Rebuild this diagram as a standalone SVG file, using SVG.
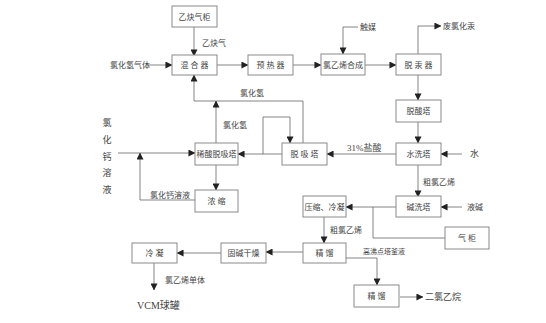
<svg xmlns="http://www.w3.org/2000/svg" width="546" height="323" viewBox="0 0 546 323">
<style>
.box{fill:#fff;stroke:#8a8a8a;stroke-width:1}
.ln{fill:none;stroke:#666;stroke-width:0.8}
.arr{marker-end:url(#ah)}
text{font-family:"Liberation Serif","Noto Sans CJK SC",serif;font-size:8px;fill:#444;text-anchor:middle}
.l{text-anchor:start}
.sp{letter-spacing:2px}
</style>
<defs>
<marker id="ah" viewBox="0 0 8 8" refX="7.5" refY="4" markerWidth="7" markerHeight="7" markerUnits="userSpaceOnUse" orient="auto">
<path d="M0,0 L8,4 L0,8 z" fill="#222"/>
</marker>
</defs>
<rect width="546" height="323" fill="#fff"/>
<g id="connectors">
<path class="ln arr" d="M194,27 V56"/>
<path class="ln arr" d="M148,65 H172"/>
<path class="ln arr" d="M217,65 H248"/>
<path class="ln arr" d="M293,65 H321"/>
<path class="ln arr" d="M358,27 H343 V54"/>
<path class="ln arr" d="M365,65 H396"/>
<path class="ln arr" d="M418,54 V26 H441"/>
<path class="ln arr" d="M418,75 V100"/>
<path class="ln arr" d="M418,122 V143"/>
<path class="ln arr" d="M462,154 H441"/>
<path class="ln arr" d="M396,154 H327"/>
<path class="ln arr" d="M303,143 V101 H194 V75"/>
<path class="ln arr" d="M216,143 V101"/>
<path class="ln arr" d="M282,154 H238"/>
<path class="ln arr" d="M263,154 V117 H290 V143"/>
<path class="ln arr" d="M118,153 H195"/>
<path class="ln arr" d="M216,165 V190"/>
<path class="ln arr" d="M195,200 H140 V153"/>
<path class="ln arr" d="M418,165 V197"/>
<path class="ln arr" d="M462,207 H441"/>
<path class="ln arr" d="M396,207 H346"/>
<path class="ln" d="M373,207 V238 H445"/>
<path class="ln arr" d="M324,217 V243"/>
<path class="ln arr" d="M346,258 H377 V285"/>
<path class="ln arr" d="M303,252 H266"/>
<path class="ln arr" d="M221,253 H177"/>
<path class="ln arr" d="M400,297 H423"/>
<path class="ln arr" d="M154,263 V290"/>
</g>
<g id="n-yqgui"><rect class="box" x="172" y="6" width="45" height="21"/><text x="194.5" y="19.5">乙炔气柜</text></g>
<g id="n-mixer"><rect class="box" x="172" y="55" width="45" height="20"/><text class="sp" x="195.5" y="68">混合器</text></g>
<g id="n-preheat"><rect class="box" x="248" y="55" width="45" height="20"/><text class="sp" x="271.5" y="68">预热器</text></g>
<g id="n-synth"><rect class="box" x="321" y="54" width="44" height="21"/><text x="343" y="67.5">氯乙烯合成</text></g>
<g id="n-hg"><rect class="box" x="396" y="54" width="45" height="21"/><text class="sp" x="419.5" y="67.5">脱汞器</text></g>
<g id="n-acid"><rect class="box" x="396" y="100" width="45" height="22"/><text x="418.5" y="114">脱酸塔</text></g>
<g id="n-wash"><rect class="box" x="396" y="143" width="45" height="22"/><text x="418.5" y="157">水洗塔</text></g>
<g id="n-desorb"><rect class="box" x="282" y="143" width="45" height="22"/><text class="sp" x="305.5" y="157">脱吸塔</text></g>
<g id="n-dilute"><rect class="box" x="195" y="143" width="43" height="22"/><text x="216.5" y="157">稀酸脱吸塔</text></g>
<g id="n-conc"><rect class="box" x="195" y="190" width="43" height="22"/><text class="sp" x="217.5" y="204">浓缩</text></g>
<g id="n-alkali"><rect class="box" x="396" y="196" width="45" height="21"/><text x="418.5" y="209.5">碱洗塔</text></g>
<g id="n-comp"><rect class="box" x="303" y="196" width="43" height="21"/><text x="324.5" y="209.5">压缩、冷凝</text></g>
<g id="n-gasholder"><rect class="box" x="445" y="227" width="44" height="22"/><text class="sp" x="468" y="241">气柜</text></g>
<g id="n-distill1"><rect class="box" x="303" y="243" width="43" height="20"/><text class="sp" x="325.5" y="256">精馏</text></g>
<g id="n-distill2"><rect class="box" x="354" y="285" width="45" height="22"/><text class="sp" x="377.5" y="299">精馏</text></g>
<g id="n-dry"><rect class="box" x="221" y="243" width="45" height="20"/><text x="243.5" y="256">固碱干燥</text></g>
<g id="n-cond"><rect class="box" x="132" y="243" width="45" height="20"/><text class="sp" x="155.5" y="256">冷凝</text></g>
<g id="labels">
<text class="l" x="202" y="46">乙炔气</text>
<text x="130" y="68">氯化氢气体</text>
<text class="l" x="360" y="30">触媒</text>
<text class="l" x="443" y="29">废氯化汞</text>
<text class="l" x="240" y="96">氯化氢</text>
<text class="l" x="223" y="128">氯化氢</text>
<text class="l" x="347" y="151" style="font-size:9px">31%盐酸</text>
<text class="l" x="470" y="157" style="font-size:9px">水</text>
<text class="l" x="423" y="185">粗氯乙烯</text>
<text class="l" x="150" y="198">氯化钙溶液</text>
<text class="l" x="467" y="210">液碱</text>
<text class="l" x="330" y="233">粗氯乙烯</text>
<text class="l" x="363" y="254" style="font-size:7px">高沸点塔釜液</text>
<text class="l" x="425" y="300" style="font-size:9px">二氯乙烷</text>
<text class="l" x="165" y="283">氯乙烯单体</text>
<text class="l" x="137" y="309" style="font-size:10px">VCM球罐</text>
<text x="107" y="126" style="font-size:9px">氯</text>
<text x="107" y="143" style="font-size:9px">化</text>
<text x="107" y="160" style="font-size:9px">钙</text>
<text x="107" y="176" style="font-size:9px">溶</text>
<text x="107" y="193" style="font-size:9px">液</text>
</g>
</svg>
